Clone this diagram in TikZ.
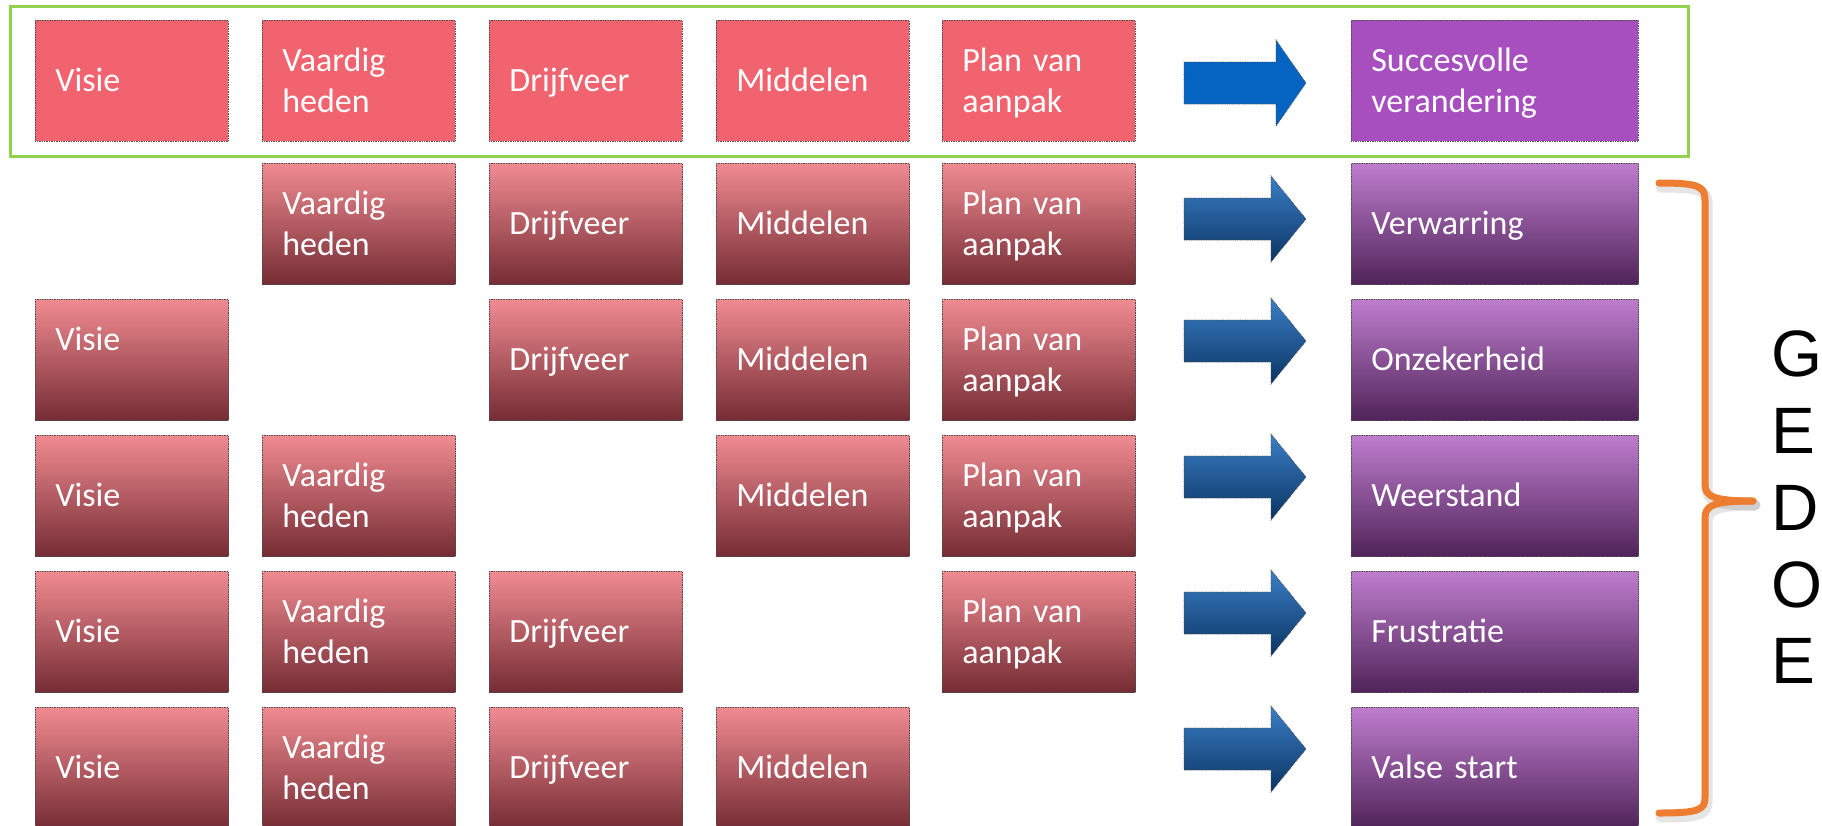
\documentclass[tikz,border=0pt]{standalone}
\usepackage{fontspec}
\setmainfont{Carlito}
\newfontfamily\gedoefont{Liberation Sans}
\definecolor{redflat}{RGB}{241,100,111}
\definecolor{redtop}{RGB}{241,139,146}
\definecolor{redmid}{RGB}{192,98,106}
\definecolor{redbot}{RGB}{117,44,52}
\definecolor{purflat}{RGB}{167,79,191}
\definecolor{purtop}{RGB}{190,125,205}
\definecolor{purmid}{RGB}{138,80,155}
\definecolor{purbot}{RGB}{80,36,90}
\definecolor{bluflat}{RGB}{5,99,193}
\definecolor{blutop}{RGB}{58,126,196}
\definecolor{blumid}{RGB}{36,93,155}
\definecolor{blubot}{RGB}{11,52,100}
\definecolor{greenframe}{RGB}{146,208,80}
\definecolor{bracecol}{RGB}{237,125,49}
\newcommand\bs{\rule[-8pt]{0pt}{38pt}}
\newcommand\myarrow[4]{%
  \path[#4] (1184,#1-21) -- (#2,#1-21) -- (#2,#1-43) -- (1306,#1) -- (#2,#1+43) -- (#2,#1+21) -- (1184,#1+21) -- cycle;}
\begin{document}
\begin{tikzpicture}[x=1pt,y=-1pt,
  box/.style={anchor=north west, minimum width=193pt, minimum height=121pt,
    inner xsep=20pt, inner ysep=0pt, text width=153pt, align=left, text=white,
    font=\fontsize{34}{41}\selectfont, draw=black!70, densely dotted, line width=0.7pt},
  redA/.style={box, fill=redflat},
  redB/.style={box, top color=redtop, middle color=redmid, bottom color=redbot},
  pbox/.style={box, minimum width=287pt, text width=247pt},
  purA/.style={pbox, fill=purflat},
  purB/.style={pbox, top color=purtop, middle color=purmid, bottom color=purbot},
  arrA/.style={fill=bluflat, draw=black!70, densely dotted, line width=0.7pt},
  arrB/.style={top color=blutop, middle color=blumid, bottom color=blubot, draw=black!70, densely dotted, line width=0.7pt},
  bracestyle/.style={draw=bracecol, line width=7pt, line cap=round, line join=round},
  braceshadow/.style={draw=black, draw opacity=0.10, line width=11pt, line cap=round, line join=round},
  gedoe/.style={anchor=base west, inner sep=0pt, font=\gedoefont\fontsize{65.6}{77}\selectfont}
]
\useasboundingbox (0,0) rectangle (1822,825);

% green frame
\draw[greenframe, line width=3pt] (10.5,6) rectangle (1688,156);

% row 1
\node[redA] (r1c1) at (35,20) {\bs Visie};
\node[redA] (r1c2) at (262,20) {\bs Vaardig\\heden\bs};
\node[redA] (r1c3) at (489,20) {\bs Drijfveer};
\node[redA] (r1c4) at (716,20) {\bs Middelen};
\node[redA] (r1c5) at (942,20) {\bs Plan van\\aanpak\bs};
\node[purA] (r1p) at (1351,20) {\bs Succesvolle\\verandering\bs};
\myarrow{83}{1276}{}{arrA}

% row 2
\node[redB] (r2c2) at (262,163) {\bs Vaardig\\heden\bs};
\node[redB] (r2c3) at (489,163) {\bs Drijfveer};
\node[redB] (r2c4) at (716,163) {\bs Middelen};
\node[redB] (r2c5) at (942,163) {\bs Plan van\\aanpak\bs};
\node[purB] (r2p) at (1351,163) {\bs Verwarring};
\myarrow{219}{1271}{}{arrB}

% row 3
\node[redB] (r3c1) at (35,299) {\bs\raisebox{20pt}[0pt][0pt]{Visie}};
\node[redB] (r3c3) at (489,299) {\bs Drijfveer};
\node[redB] (r3c4) at (716,299) {\bs Middelen};
\node[redB] (r3c5) at (942,299) {\bs Plan van\\aanpak\bs};
\node[purB] (r3p) at (1351,299) {\bs Onzekerheid};
\myarrow{341}{1271}{}{arrB}

% row 4
\node[redB] (r4c1) at (35,435) {\bs Visie};
\node[redB] (r4c2) at (262,435) {\bs Vaardig\\heden\bs};
\node[redB] (r4c4) at (716,435) {\bs Middelen};
\node[redB] (r4c5) at (942,435) {\bs Plan van\\aanpak\bs};
\node[purB] (r4p) at (1351,435) {\bs Weerstand};
\myarrow{477}{1271}{}{arrB}

% row 5
\node[redB] (r5c1) at (35,571) {\bs Visie};
\node[redB] (r5c2) at (262,571) {\bs Vaardig\\heden\bs};
\node[redB] (r5c3) at (489,571) {\bs Drijfveer};
\node[redB] (r5c5) at (942,571) {\bs Plan van\\aanpak\bs};
\node[purB] (r5p) at (1351,571) {\bs Frustratie};
\myarrow{613}{1271}{}{arrB}

% row 6
\node[redB] (r6c1) at (35,707) {\bs Visie};
\node[redB] (r6c2) at (262,707) {\bs Vaardig\\heden\bs};
\node[redB] (r6c3) at (489,707) {\bs Drijfveer};
\node[redB] (r6c4) at (716,707) {\bs Middelen};
\node[purB] (r6p) at (1351,707) {\bs Valse start};
\myarrow{749}{1271}{}{arrB}

% brace
\begin{scope}[shift={(2,4)}]
\draw[braceshadow] (1659,183) .. controls (1698,183) and (1705,186) .. (1705,200) -- (1705,484)
  .. controls (1705,496) and (1712,501) .. (1753,501);
\draw[braceshadow] (1753,501) .. controls (1712,501) and (1705,506) .. (1705,518) -- (1705,798)
  .. controls (1705,810) and (1698,813) .. (1659,813);
\end{scope}
\draw[bracestyle] (1659,183) .. controls (1698,183) and (1705,186) .. (1705,200) -- (1705,484)
  .. controls (1705,496) and (1712,501) .. (1753,501);
\draw[bracestyle] (1753,501) .. controls (1712,501) and (1705,506) .. (1705,518) -- (1705,798)
  .. controls (1705,810) and (1698,813) .. (1659,813);

% GEDOE
\node[gedoe] (g1) at (1771,376) {G};
\node[gedoe] (g2) at (1771,453) {E};
\node[gedoe] (g3) at (1771,530) {D};
\node[gedoe] (g4) at (1771,607) {O};
\node[gedoe] (g5) at (1771,683) {E};
\end{tikzpicture}
\end{document}
